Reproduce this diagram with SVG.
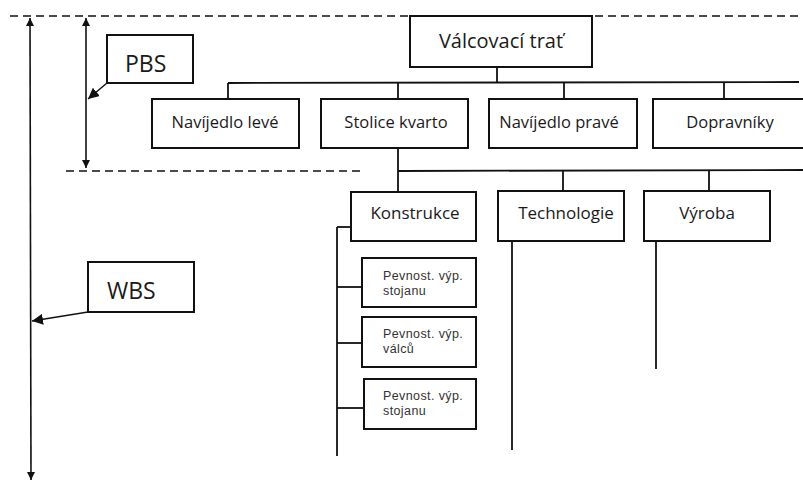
<svg xmlns="http://www.w3.org/2000/svg" width="803" height="486" viewBox="0 0 803 486">
  <style>
    .box { fill: #fff; stroke: #111; stroke-width: 2; }
    .ln { fill: none; stroke: #111; stroke-width: 1.8; }
    .dash { fill: none; stroke: #111; stroke-width: 1.6; stroke-dasharray: 8 5; }
    .t { font-family: "Open Sans", "Noto Sans", sans-serif; fill: #1a1a1a; }
    .c { text-anchor: middle; }
    .m { font-size: 16.5px; }
    .k { font-size: 17px; }
    .s { font-family: "Liberation Sans", Arial, sans-serif; font-size: 12.5px; letter-spacing: 0.4px; fill: #333; }
  </style>
  <defs>
    <marker id="arr" viewBox="0 0 10 10" refX="10" refY="5" markerWidth="8" markerHeight="8" markerUnits="userSpaceOnUse" orient="auto-start-reverse">
      <path d="M0,0 L10,5 L0,10 Z" fill="#111"/>
    </marker>
    <marker id="arrS" viewBox="0 0 10 10" refX="10" refY="5" markerWidth="11" markerHeight="11" markerUnits="userSpaceOnUse" orient="auto">
      <path d="M0,0 L10,5 L0,10 Z" fill="#111"/>
    </marker>
  </defs>
  <rect width="803" height="486" fill="#fff"/>

  <!-- level separators -->
  <g id="separators">
    <line class="dash" x1="10" y1="16" x2="803" y2="16"/>
    <line class="dash" x1="66" y1="171" x2="362" y2="171"/>
  </g>

  <!-- connectors -->
  <g id="connectors">
    <!-- scale arrows -->
    <line class="ln" x1="30" y1="18" x2="31" y2="480" marker-start="url(#arr)" marker-end="url(#arr)" style="stroke-width:1.6"/>
    <line class="ln" x1="86" y1="18" x2="86" y2="168" marker-start="url(#arr)" marker-end="url(#arr)" style="stroke-width:1.6"/>
    <line class="ln" x1="107" y1="83" x2="88" y2="99" marker-end="url(#arrS)" style="stroke-width:1.4"/>
    <line class="ln" x1="88" y1="312" x2="32" y2="321" marker-end="url(#arrS)" style="stroke-width:1.4"/>
    <!-- first level -->
    <line class="ln" x1="497" y1="67" x2="497" y2="83"/>
    <line class="ln" x1="228" y1="83" x2="799" y2="82"/>
    <line class="ln" x1="228" y1="83" x2="228" y2="99"/>
    <line class="ln" x1="398" y1="83" x2="398" y2="99"/>
    <line class="ln" x1="564" y1="83" x2="564" y2="99"/>
    <line class="ln" x1="724" y1="83" x2="724" y2="99"/>
    <!-- second level -->
    <line class="ln" x1="398" y1="148" x2="398" y2="192"/>
    <line class="ln" x1="398" y1="171" x2="803" y2="170"/>
    <line class="ln" x1="563" y1="171" x2="563" y2="191"/>
    <line class="ln" x1="709" y1="170" x2="709" y2="191"/>
    <!-- branches -->
    <line class="ln" x1="337" y1="227" x2="351" y2="227"/>
    <line class="ln" x1="337" y1="227" x2="337" y2="456"/>
    <line class="ln" x1="337" y1="287" x2="363" y2="287"/>
    <line class="ln" x1="337" y1="343" x2="363" y2="343"/>
    <line class="ln" x1="337" y1="408" x2="365" y2="408"/>
    <line class="ln" x1="512" y1="241" x2="512" y2="450"/>
    <line class="ln" x1="656" y1="241" x2="656" y2="369"/>
  </g>

  <g id="pbs">
    <rect class="box" x="107" y="35" width="86" height="48"/>
    <text class="t" x="125" y="72" font-size="23">PBS</text>
  </g>
  <g id="wbs">
    <rect class="box" x="88" y="262" width="106" height="50"/>
    <text class="t" x="107" y="299" font-size="23">WBS</text>
  </g>

  <g id="valcovaci-trat">
    <rect class="box" x="410" y="16" width="182" height="51"/>
    <text class="t c" x="501" y="48" font-size="20">Válcovací trať</text>
  </g>

  <g id="navijedlo-leve">
    <rect class="box" x="152" y="99" width="147" height="49"/>
    <text class="t c m" x="225" y="128">Navíjedlo levé</text>
  </g>
  <g id="stolice-kvarto">
    <rect class="box" x="321" y="99" width="147" height="49"/>
    <text class="t c m" x="396" y="128">Stolice kvarto</text>
  </g>
  <g id="navijedlo-prave">
    <rect class="box" x="489" y="99" width="148" height="49"/>
    <text class="t c m" x="559" y="128">Navíjedlo pravé</text>
  </g>
  <g id="dopravniky">
    <rect class="box" x="653" y="99" width="160" height="49"/>
    <text class="t c m" x="730" y="128">Dopravníky</text>
  </g>

  <g id="konstrukce">
    <rect class="box" x="351" y="192" width="125" height="49"/>
    <text class="t c k" x="415" y="219">Konstrukce</text>
  </g>
  <g id="technologie">
    <rect class="box" x="498" y="191" width="126" height="50"/>
    <text class="t c k" x="566" y="219">Technologie</text>
  </g>
  <g id="vyroba">
    <rect class="box" x="644" y="191" width="126" height="50"/>
    <text class="t c k" x="707" y="219">Výroba</text>
  </g>

  <g id="pevnost-stojanu-1">
    <rect class="box" x="362" y="258" width="114" height="49"/>
    <text class="s" x="383" y="280">Pevnost. výp.<tspan x="383" dy="14.5">stojanu</tspan></text>
  </g>
  <g id="pevnost-valcu">
    <rect class="box" x="362" y="317" width="114" height="50"/>
    <text class="s" x="383" y="338">Pevnost. výp.<tspan x="383" dy="14.5">válců</tspan></text>
  </g>
  <g id="pevnost-stojanu-2">
    <rect class="box" x="364" y="379" width="112" height="50"/>
    <text class="s" x="383" y="400">Pevnost. výp.<tspan x="383" dy="14.5">stojanu</tspan></text>
  </g>
</svg>
